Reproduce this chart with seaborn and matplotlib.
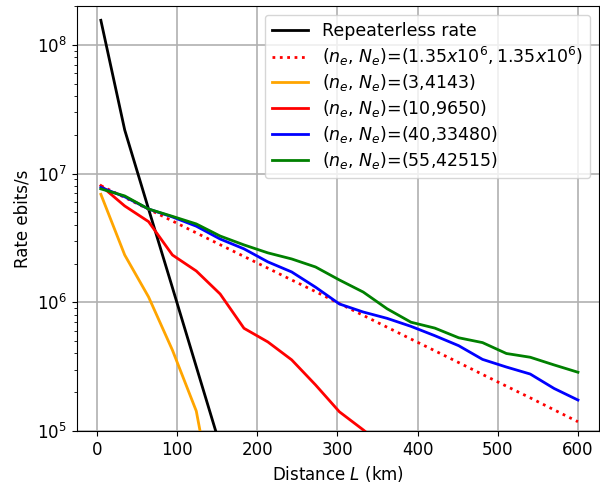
import numpy as np
import pandas as pd
import matplotlib
matplotlib.use("Agg")
import matplotlib.pyplot as plt
import seaborn as sns

# Distance grid (km)
distance = [5, 34.75, 64.5, 94.25, 124, 153.75, 183.5, 213.25, 243, 272.75, 302.5,
            332.25, 362, 391.75, 421.5, 451.25, 481, 510.75, 540.5, 570.25, 600]

# Rates in ebits/s
repeaterless = [1.55e8, 2.18e7, 5.3e6, 1.3e6, 3.16e5, 7.7e4]
rate_inf = [8.05e6, 6.52e6, 5.28e6, 4.28e6, 3.46e6, 2.80e6, 2.27e6, 1.84e6, 1.49e6, 1.21e6, 9.77e5,
            7.91e5, 6.40e5, 5.18e5, 4.20e5, 3.40e5, 2.75e5, 2.23e5, 1.81e5, 1.46e5, 1.18e5]
rate_3 = [6.9e6, 2.33e6, 1.1e6, 4.25e5, 1.43e5, 1.5e4]
rate_10 = [8.05e6, 5.6e6, 4.23e6, 2.33e6, 1.75e6, 1.16e6, 6.28e5, 4.92e5, 3.57e5, 2.28e5, 1.41e5,
           1.02e5, 7.2e4]
rate_40 = [7.8e6, 6.6e6, 5.3e6, 4.6e6, 3.9e6, 3.1e6, 2.6e6, 2.06e6, 1.72e6, 1.31e6, 9.7e5,
           8.4e5, 7.5e5, 6.5e5, 5.5e5, 4.6e5, 3.6e5, 3.14e5, 2.77e5, 2.14e5, 1.74e5]
rate_55 = [7.6e6, 6.7e6, 5.3e6, 4.65e6, 4.06e6, 3.27e6, 2.79e6, 2.42e6, 2.17e6, 1.88e6, 1.49e6,
           1.20e6, 8.9e5, 7.0e5, 6.3e5, 5.3e5, 4.86e5, 4.0e5, 3.74e5, 3.26e5, 2.86e5]

series = [
    ("Repeaterless rate", repeaterless, "black", "-"),
    (r"($n_e$, $N_e$)=($1.35x10^6, 1.35x10^6$)", rate_inf, "red", ":"),
    (r"($n_e$, $N_e$)=(3,4143)", rate_3, "orange", "-"),
    (r"($n_e$, $N_e$)=(10,9650)", rate_10, "red", "-"),
    (r"($n_e$, $N_e$)=(40,33480)", rate_40, "blue", "-"),
    (r"($n_e$, $N_e$)=(55,42515)", rate_55, "green", "-"),
]

plt.rcParams["font.size"] = 12
fig = plt.figure(figsize=(6, 4.84), dpi=100)
ax = fig.add_axes([0.128, 0.1095, 0.87, 0.878])

for label, vals, color, ls in series:
    sns.lineplot(x=distance[:len(vals)], y=vals, color=color, linestyle=ls,
                 linewidth=2, label=label, ax=ax)

ax.set_yscale("log")
ax.set_ylim(1e5, 2.0e8)
ax.set_xlim(-25, 626)
ax.set_xticks([0, 100, 200, 300, 400, 500, 600])
ax.grid(True, color="#b0b0b0", linewidth=1.2)
ax.set_xlabel("Distance $L$ (km)")
ax.set_ylabel("Rate ebits/s")
ax.legend(loc="upper right", fontsize=12.5, labelspacing=0.28, handlelength=2.1)

plt.savefig("out.png")
plt.close()
